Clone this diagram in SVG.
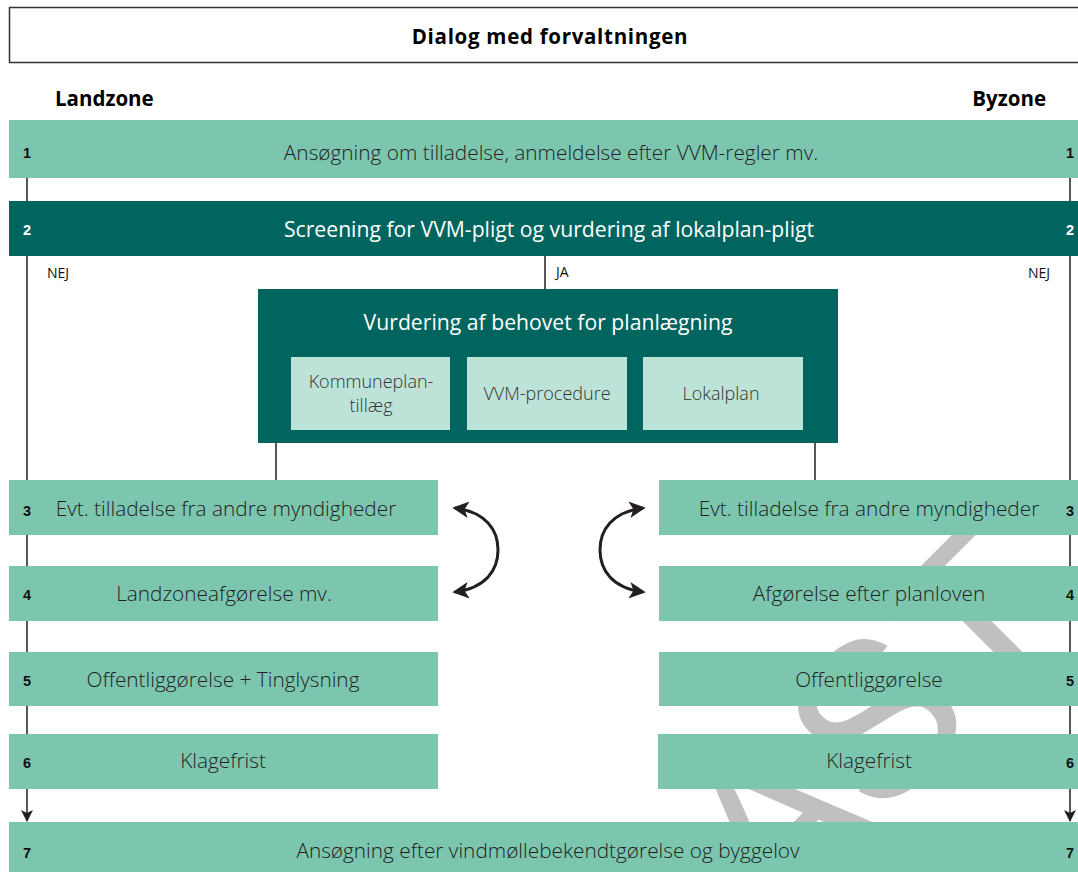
<svg xmlns="http://www.w3.org/2000/svg" width="1078" height="872" viewBox="0 0 1078 872">
<defs>
<style>
.lg{fill:#7cc6b0}
.dk{fill:#00645f}
.sub{fill:#bde3d9}
.t{font-family:"Open Sans","Liberation Sans",sans-serif;font-weight:300;font-size:20.8px;fill:#231f20;text-anchor:middle}
.tw{font-family:"Open Sans","Liberation Sans",sans-serif;font-weight:400;font-size:21.2px;fill:#ffffff;text-anchor:middle}
.ts{font-family:"Open Sans","Liberation Sans",sans-serif;font-weight:300;font-size:18px;fill:#333333;text-anchor:middle}
.n{font-family:"Liberation Sans",sans-serif;font-weight:700;font-size:14.5px;fill:#111;text-anchor:middle}
.nw{font-family:"Liberation Sans",sans-serif;font-weight:700;font-size:14.5px;fill:#fff;text-anchor:middle}
.h{font-family:"Open Sans","Liberation Sans",sans-serif;font-weight:700;font-size:20.5px;fill:#000}
.lab{font-family:"Open Sans","Liberation Sans",sans-serif;font-weight:400;font-size:14px;fill:#111}
.ln{stroke:#231f20;stroke-width:1.5;fill:none}
.cv{stroke:#231f20;stroke-width:3;fill:none}
</style>
<marker id="ah" viewBox="0 0 12 12" refX="11" refY="6" markerWidth="12" markerHeight="12" markerUnits="userSpaceOnUse" orient="auto">
<path d="M0,0 L12,6 L0,12 L3,6 Z" fill="#231f20"/>
</marker>
<marker id="ah2" viewBox="0 0 12 12" refX="10" refY="6" markerWidth="5.5" markerHeight="5.5" orient="auto-start-reverse">
<path d="M0,0 L12,6 L0,12 L3,6 Z" fill="#231f20"/>
</marker>
</defs>
<rect width="1078" height="872" fill="#ffffff"/>

<g id="watermark">
<text x="0" y="0" transform="translate(773.5,927.5) rotate(-45)" font-family="Liberation Sans, sans-serif" font-size="220" fill="#c0c0c0">AST</text>
</g>

<g id="title">
<rect x="9.5" y="7.5" width="1080" height="55" fill="#fff" stroke="#333" stroke-width="1.5"/>
<text x="550" y="44" class="h" text-anchor="middle" font-size="26" letter-spacing="0.7">Dialog med forvaltningen</text>
</g>
<text x="55" y="106" class="h">Landzone</text>
<text x="1046" y="106" class="h" text-anchor="end">Byzone</text>

<g id="connectors">
<line class="ln" x1="27" y1="178" x2="27" y2="201"/>
<line class="ln" x1="1070" y1="178" x2="1070" y2="201"/>
<line class="ln" x1="27" y1="256" x2="27" y2="821" marker-end="url(#ah)"/>
<line class="ln" x1="1070" y1="256" x2="1070" y2="821" marker-end="url(#ah)"/>
<line class="ln" x1="545" y1="256" x2="545" y2="289"/>
<line class="ln" x1="276" y1="443" x2="276" y2="480"/>
<line class="ln" x1="815" y1="443" x2="815" y2="480"/>
<path class="cv" d="M455,508 C486,512 498,530 498,550 C498,570 486,588 455,592" marker-start="url(#ah2)" marker-end="url(#ah2)"/>
<path class="cv" d="M643,508 C612,512 600,530 600,550 C600,570 612,588 643,592" marker-start="url(#ah2)" marker-end="url(#ah2)"/>
<text x="47" y="278" class="lab">NEJ</text>
<text x="1050" y="278" class="lab" text-anchor="end">NEJ</text>
<text x="556" y="277" class="lab">JA</text>
</g>

<g id="step1">
<rect class="lg" x="9" y="120" width="1069" height="58"/>
<text class="t" x="551" y="160">Ansøgning om tilladelse, anmeldelse efter VVM-regler mv.</text>
<text class="n" x="27" y="158">1</text>
<text class="n" x="1070" y="158">1</text>
</g>
<g id="step2">
<rect class="dk" x="9" y="201" width="1069" height="55"/>
<text class="tw" x="549" y="237">Screening for VVM-pligt og vurdering af lokalplan-pligt</text>
<text class="nw" x="27" y="235">2</text>
<text class="nw" x="1070" y="235">2</text>
</g>
<g id="planning">
<rect class="dk" x="258" y="289" width="580" height="154"/>
<text class="tw" x="548" y="330">Vurdering af behovet for planlægning</text>
<rect class="sub" x="291" y="357" width="159" height="73"/>
<text class="ts" x="371" y="388">Kommuneplan-</text>
<text class="ts" x="371" y="412">tillæg</text>
<rect class="sub" x="467" y="357" width="160" height="73"/>
<text class="ts" x="547" y="400">VVM-procedure</text>
<rect class="sub" x="643" y="357" width="160" height="73"/>
<text class="ts" x="721" y="400">Lokalplan</text>
</g>

<g id="step3-land">
<rect class="lg" x="9" y="480" width="429" height="55"/>
<text class="t" x="226" y="516">Evt. tilladelse fra andre myndigheder</text>
<text class="n" x="27" y="516">3</text>
</g>
<g id="step3-by">
<rect class="lg" x="659" y="480" width="419" height="55"/>
<text class="t" x="869" y="516">Evt. tilladelse fra andre myndigheder</text>
<text class="n" x="1070" y="516">3</text>
</g>
<g id="step4-land">
<rect class="lg" x="9" y="566" width="429" height="55"/>
<text class="t" x="224" y="601">Landzoneafgørelse mv.</text>
<text class="n" x="27" y="600">4</text>
</g>
<g id="step4-by">
<rect class="lg" x="659" y="566" width="419" height="55"/>
<text class="t" x="869" y="601">Afgørelse efter planloven</text>
<text class="n" x="1070" y="600">4</text>
</g>
<g id="step5-land">
<rect class="lg" x="9" y="652" width="429" height="54"/>
<text class="t" x="223" y="687">Offentliggørelse + Tinglysning</text>
<text class="n" x="27" y="686">5</text>
</g>
<g id="step5-by">
<rect class="lg" x="659" y="652" width="419" height="54"/>
<text class="t" x="869" y="687">Offentliggørelse</text>
<text class="n" x="1070" y="686">5</text>
</g>
<g id="step6-land">
<rect class="lg" x="9" y="734" width="429" height="55"/>
<text class="t" x="223" y="768">Klagefrist</text>
<text class="n" x="27" y="768">6</text>
</g>
<g id="step6-by">
<rect class="lg" x="658" y="734" width="420" height="55"/>
<text class="t" x="869" y="768">Klagefrist</text>
<text class="n" x="1070" y="768">6</text>
</g>
<g id="step7">
<rect class="lg" x="9" y="822" width="1069" height="50"/>
<text class="t" x="548" y="858">Ansøgning efter vindmøllebekendtgørelse og byggelov</text>
<text class="n" x="27" y="858">7</text>
<text class="n" x="1070" y="858">7</text>
</g>
</svg>
